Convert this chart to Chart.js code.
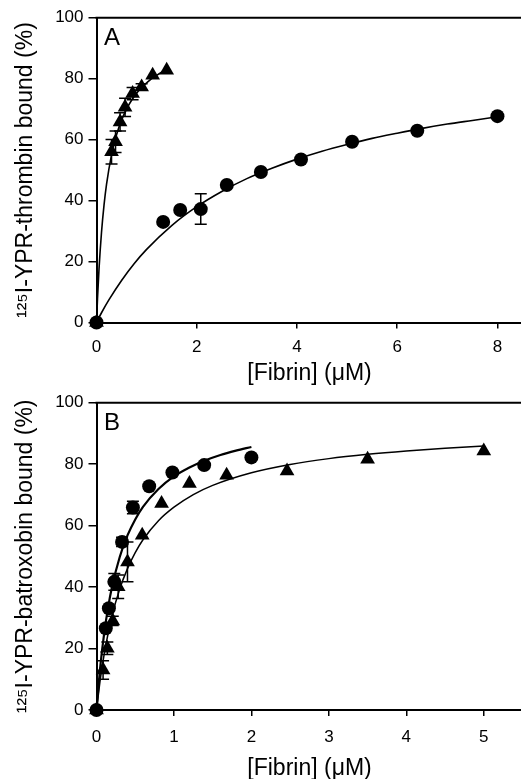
<!DOCTYPE html>
<html><head><meta charset="utf-8">
<script src="https://cdn.jsdelivr.net/npm/chart.js@4/dist/chart.umd.min.js"></script>
<style>
html,body{margin:0;padding:0;background:#fff;overflow:hidden;width:521px;height:779px;}
canvas{position:absolute;left:0;display:block;}
#ca{top:0;} #cb{top:390px;}
</style></head><body>
<canvas id="ca" width="531" height="390" style="width:531px;height:390px"></canvas>
<canvas id="cb" width="531" height="389" style="width:531px;height:389px"></canvas>
<script>
// ---------- Panel A: 125I-YPR-thrombin ----------
const aTriX = [0, 0.30, 0.38, 0.47, 0.57, 0.72, 0.90, 1.12, 1.40];
const aTriY = [0, 56.0, 59.3, 65.8, 70.6, 75.1, 77.3, 81.1, 82.8];
const aTriErr = [0, 4, 3.5, 3, 3, 2, 1, 0, 0];
const aCirX = [0, 1.33, 1.67, 2.08, 2.60, 3.28, 4.08, 5.10, 6.40, 8.00];
const aCirY = [0, 33.0, 36.9, 37.2, 45.1, 49.4, 53.5, 59.3, 62.9, 67.7];
const aCirErr = [0, 0, 0, 5, 0, 0, 0, 0, 0, 0];
// fitted curves
const aTriFitX = [0, 0.02, 0.05, 0.10, 0.15, 0.20, 0.30, 0.40, 0.50, 0.60, 0.70, 0.80, 0.90, 1.00, 1.10, 1.20, 1.30, 1.40];
const aTriFitY = [0, 7.8, 17.5, 29.6, 38.5, 45.3, 55.0, 61.6, 66.4, 70.0, 72.9, 75.2, 77.1, 78.6, 80.0, 81.1, 82.1, 83.0];
const aCirFitX = [0, 0.1, 0.25, 0.5, 0.75, 1, 1.5, 2, 2.5, 3, 3.5, 4, 4.5, 5, 5.5, 6, 6.5, 7, 7.5, 8];
const aCirFitY = [0, 3.2, 7.5, 13.8, 19.3, 24.0, 31.8, 38.0, 43.0, 47.2, 50.6, 53.6, 56.2, 58.4, 60.4, 62.1, 63.7, 65.1, 66.3, 67.5];
const aXTicks = [0, 2, 4, 6, 8];

// ---------- Panel B: 125I-YPR-batroxobin ----------
const bCirX = [0, 0.12, 0.16, 0.23, 0.33, 0.47, 0.68, 0.98, 1.39, 2.00];
const bCirY = [0, 26.6, 33.1, 41.7, 54.7, 65.9, 72.8, 77.3, 79.7, 82.2];
const bCirErr = [0, 0, 0, 2.7, 1.5, 2, 0, 0, 0, 0];
const bTriX = [0, 0.085, 0.14, 0.21, 0.28, 0.40, 0.59, 0.84, 1.20, 1.68, 2.46, 3.50, 5.00];
const bTriY = [0, 13.0, 20.1, 29.0, 40.1, 48.2, 56.9, 67.2, 73.7, 76.4, 77.8, 81.6, 84.3];
const bTriErr = [0, 3, 2, 1.5, 3.8, 6.5, 0, 0, 0, 0, 0, 0, 0];
const bCirFitX = [0, 0.05, 0.10, 0.15, 0.20, 0.30, 0.40, 0.50, 0.60, 0.80, 1.00, 1.20, 1.40, 1.60, 1.80, 2.00];
const bCirFitY = [0, 14.4, 25.1, 33.4, 40.0, 49.8, 56.8, 62.0, 66.1, 71.9, 76.0, 78.9, 81.2, 83.0, 84.4, 85.6];
const bTriFitX = [0, 0.05, 0.10, 0.20, 0.30, 0.40, 0.50, 0.60, 0.80, 1.00, 1.25, 1.50, 2.00, 2.50, 3.00, 3.50, 4.00, 4.50, 5.00];
const bTriFitY = [0, 10.2, 18.3, 30.6, 39.4, 46.0, 51.2, 55.4, 61.6, 66.0, 70.1, 73.1, 77.2, 79.9, 81.8, 83.2, 84.3, 85.2, 85.9];
const bXTicks = [0, 1, 2, 3, 4, 5];

const yTicks = [0, 20, 40, 60, 80, 100];

const FONT = "'Liberation Sans', Arial, sans-serif";
const pts = (xs, ys) => xs.map((x, i) => ({x: x, y: ys[i]}));

const errorBars = {
  id: 'errorBars',
  beforeDatasetsDraw(chart) {
    const ctx = chart.ctx, xs = chart.scales.x, ys = chart.scales.y;
    ctx.save();
    ctx.strokeStyle = '#000';
    ctx.lineWidth = 1.5;
    chart.data.datasets.forEach(ds => {
      if (!ds.errors) return;
      ds.data.forEach((p, i) => {
        const e = ds.errors[i];
        if (!e) return;
        const px = xs.getPixelForValue(p.x);
        const top = ys.getPixelForValue(p.y + e);
        const bot = ys.getPixelForValue(p.y - e);
        ctx.beginPath();
        ctx.moveTo(px, top); ctx.lineTo(px, bot);
        ctx.moveTo(px - 6, top); ctx.lineTo(px + 6, top);
        ctx.moveTo(px - 6, bot); ctx.lineTo(px + 6, bot);
        ctx.stroke();
      });
    });
    ctx.restore();
  }
};

const frame = {
  id: 'frame',
  afterDraw(chart, args, opts) {
    const ctx = chart.ctx, a = chart.chartArea;
    ctx.save();
    ctx.strokeStyle = '#000';
    ctx.lineWidth = 2;
    ctx.beginPath();
    ctx.moveTo(a.left - 1, a.top);
    ctx.lineTo(chart.width, a.top);
    ctx.stroke();
    ctx.fillStyle = '#000';
    ctx.font = '24px ' + FONT;
    ctx.textBaseline = 'alphabetic';
    ctx.textAlign = 'left';
    ctx.fillText(opts.letter, a.left + 7.5, a.top + 27);
    ctx.restore();
  }
};

function makeChart(id, cfg) {
  const tri = {pointStyle: 'triangle', pointRadius: 8.5, pointHoverRadius: 8.5};
  const cir = {pointStyle: 'circle', pointRadius: 7, pointHoverRadius: 7};
  const mk = (s) => s === 'tri' ? tri : cir;
  const datasets = [];
  cfg.points.forEach(p => {
    datasets.push(Object.assign({
      type: 'scatter', data: pts(p.x, p.y), errors: p.err,
      backgroundColor: '#000', borderColor: '#000', borderWidth: 0,
      showLine: false, clip: false
    }, mk(p.style)));
  });
  cfg.fits.forEach(f => {
    datasets.push({
      type: 'line', data: pts(f.x, f.y), borderColor: '#000', borderWidth: f.w,
      pointRadius: 0, pointHoverRadius: 0, fill: false, cubicInterpolationMode: 'monotone', clip: false
    });
  });
  return new Chart(document.getElementById(id), {
    type: 'scatter',
    data: {datasets: datasets},
    plugins: [errorBars, frame],
    options: {
      responsive: false, maintainAspectRatio: false, animation: false, devicePixelRatio: 1,
      layout: {padding: {top: cfg.top, right: 0, left: 0, bottom: 0}},
      plugins: {legend: {display: false}, tooltip: {enabled: false}, frame: {letter: cfg.letter}},
      scales: {
        x: {
          type: 'linear', min: 0, max: cfg.xmax,
          afterBuildTicks: s => { s.ticks = cfg.xTicks.map(v => ({value: v})); },
          afterFit: s => { s.height = cfg.xh; s.paddingLeft = 0; s.paddingRight = 0; },
          ticks: {color: '#000', font: {family: FONT, size: 17}, padding: cfg.xpad, maxRotation: 0, autoSkip: false, includeBounds: false},
          grid: {display: true, drawOnChartArea: false, drawTicks: true, tickLength: 6, color: '#000', lineWidth: 1.5},
          border: {display: true, color: '#000', width: 2},
          title: {display: true, text: '[Fibrin] (\u03bcM)', color: '#000', font: {family: FONT, size: 23}, padding: {top: 0, bottom: cfg.xtpad}}
        },
        y: {
          type: 'linear', min: 0, max: 100,
          afterBuildTicks: s => { s.ticks = yTicks.map(v => ({value: v})); },
          afterFit: s => { s.width = 96.5; s.paddingTop = 0; s.paddingBottom = 0; },
          ticks: {color: '#000', font: {family: FONT, size: 17}, padding: 5},
          grid: {display: true, drawOnChartArea: false, drawTicks: true, tickLength: 8, color: '#000', lineWidth: 1.5},
          border: {display: true, color: '#000', width: 2},
          title: {display: true, text: cfg.ytitle, color: '#000', font: {family: FONT, size: 23}, padding: {top: 12, bottom: 0}}
        }
      }
    }
  });
}

makeChart('ca', {
  letter: 'A', top: 17.7, xmax: 8.5, xTicks: aXTicks, xh: 67.5, xpad: 9, xtpad: 3,
  ytitle: '\u00b9\u00b2\u2075I-YPR-thrombin bound (%)',
  points: [
    {x: aCirX, y: aCirY, err: aCirErr, style: 'cir'},
    {x: aTriX, y: aTriY, err: aTriErr, style: 'tri'}
  ],
  fits: [
    {x: aTriFitX, y: aTriFitY, w: 1.6},
    {x: aCirFitX, y: aCirFitY, w: 1.6}
  ]
});

makeChart('cb', {
  letter: 'B', top: 12.7, xmax: 5.5, xTicks: bXTicks, xh: 69, xpad: 11, xtpad: -3,
  ytitle: '\u00b9\u00b2\u2075I-YPR-batroxobin bound (%)',
  points: [
    {x: bCirX, y: bCirY, err: bCirErr, style: 'cir'},
    {x: bTriX, y: bTriY, err: bTriErr, style: 'tri'}
  ],
  fits: [
    {x: bCirFitX, y: bCirFitY, w: 2.2},
    {x: bTriFitX, y: bTriFitY, w: 1.5}
  ]
});
</script></body></html>
